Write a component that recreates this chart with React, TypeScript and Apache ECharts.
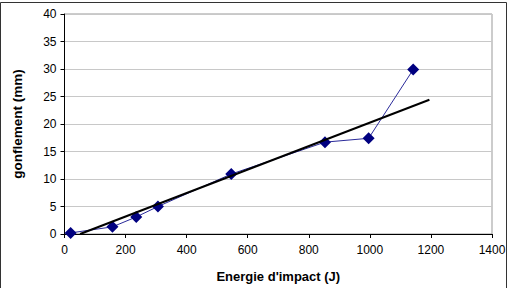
import React, { useEffect, useRef } from "react";
import * as echarts from "echarts";

const energy = [20, 157, 235, 306, 546, 853, 996, 1142];
const swelling = [0.2, 1.3, 3.1, 5.0, 10.9, 16.7, 17.4, 29.9];
const trendX = [51, 1195];
const trendY = [0, 24.4];

export default function App() {
  const ref = useRef<HTMLDivElement>(null);
  useEffect(() => {
    const chart = echarts.init(ref.current!, null, { renderer: "svg" });
    const font = "'Liberation Sans', Arial, sans-serif";
    chart.setOption({
      animation: false,
      backgroundColor: "#ffffff",
      graphic: [
        {
          type: "rect",
          shape: { x: 0.5, y: 2.5, width: 506, height: 290 },
          style: { fill: "none", stroke: "#333", lineWidth: 1 },
          silent: true,
        },
      ],
      grid: { left: 64.5, right: 19, top: 14, bottom: 52, show: true, borderColor: "#999", borderWidth: 1 },
      xAxis: {
        type: "value",
        min: 0,
        max: 1400,
        interval: 200,
        name: "Energie d'impact (J)",
        nameLocation: "middle",
        nameGap: 36,
        nameTextStyle: { fontFamily: font, fontSize: 13, fontWeight: "bold", color: "#000" },
        axisLine: { show: true, lineStyle: { color: "#000", width: 1 } },
        axisTick: { show: true, length: 4, lineStyle: { color: "#000" } },
        axisLabel: { fontFamily: font, fontSize: 12, color: "#000", margin: 10, formatter: (v: number) => String(v) },
        splitLine: { show: false },
      },
      yAxis: {
        type: "value",
        min: 0,
        max: 40,
        interval: 5,
        name: "gonflement (mm)",
        nameLocation: "middle",
        nameGap: 40,
        nameTextStyle: { fontFamily: font, fontSize: 13.5, fontWeight: "bold", color: "#000" },
        axisLine: { show: true, lineStyle: { color: "#000", width: 1 } },
        axisTick: { show: true, length: 4, lineStyle: { color: "#000" } },
        axisLabel: { fontFamily: font, fontSize: 12, color: "#000", margin: 8 },
        splitLine: { show: true, lineStyle: { color: "#c8c8c8", width: 1 } },
      },
      series: [
        {
          type: "line",
          data: energy.map((x, i) => [x, swelling[i]]),
          symbol: "diamond",
          symbolSize: 12,
          itemStyle: { color: "#000080" },
          lineStyle: { color: "#2a2a9a", width: 1 },
          z: 3,
        },
        {
          type: "line",
          data: trendX.map((x, i) => [x, trendY[i]]),
          symbol: "none",
          lineStyle: { color: "#000", width: 2 },
          z: 4,
        },
      ],
    });
    return () => chart.dispose();
  }, []);
  return (
    <div
      ref={ref}
      style={{ position: "fixed", left: 0, top: 0, width: 511, height: 288 }}
    />
  );
}
